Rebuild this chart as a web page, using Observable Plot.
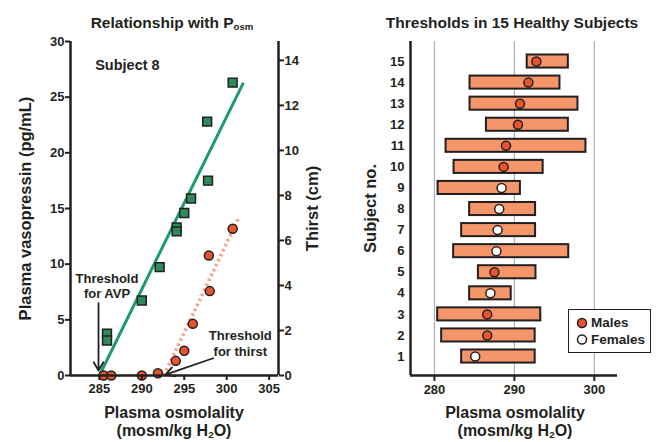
<!DOCTYPE html>
<html><head><meta charset="utf-8">
<script src="https://cdn.jsdelivr.net/npm/d3@7"></script>
<script src="https://cdn.jsdelivr.net/npm/@observablehq/plot@0.6"></script>
<style>
body{margin:0;background:#fff;}
#wrap{position:relative;width:661px;height:442px;overflow:hidden;font-family:"Liberation Sans",Arial,Helvetica,sans-serif;font-weight:bold;color:#231f20;}
.lab{position:absolute;transform:translate(-50%,-50%);white-space:nowrap;line-height:1;}
.lab sub{font-size:0.62em;vertical-align:-0.2em;line-height:0;}
#left,#right{position:absolute;top:0;}
#left{left:0;}#right{left:330px;}
#legend{position:absolute;left:568px;top:309px;width:81px;height:42px;border:1.8px solid #231f20;background:#fff;}
#legend div{position:absolute;left:22px;font-size:13.5px;transform:translateY(-50%);line-height:1;}
#legend svg{position:absolute;left:0;top:0;}
</style></head><body>
<div id="wrap">
  <div id="left"></div>
  <div id="right"></div>
  <div class="lab" style="left:172px;top:23px;font-size:15.5px">Relationship with P<sub>osm</sub></div>
  <div class="lab" style="left:512px;top:23px;font-size:15.5px">Thresholds in 15 Healthy Subjects</div>
  <div class="lab" style="left:174px;top:413px;font-size:16px">Plasma osmolality</div>
  <div class="lab" style="left:174px;top:431px;font-size:16px">(mosm/kg H<sub>2</sub>O)</div>
  <div class="lab" style="left:515px;top:413px;font-size:16px">Plasma osmolality</div>
  <div class="lab" style="left:515px;top:431px;font-size:16px">(mosm/kg H<sub>2</sub>O)</div>
  <div id="legend">
    <svg width="81" height="42">
      <circle cx="13" cy="13" r="4.5" fill="#e8542c" stroke="#231f20" stroke-width="1.5"></circle>
      <circle cx="13" cy="29.5" r="4.5" fill="#fff" stroke="#231f20" stroke-width="1.5"></circle>
    </svg>
    <div style="top:13px">Males</div>
    <div style="top:29.5px">Females</div>
  </div>
</div>
<script>
// ---------- Left panel data (Subject 8) ----------
const avpOsm   = [285.9, 285.9, 290.0, 292.1, 294.1, 294.1, 295.0, 295.8, 297.8, 297.7, 300.7];
const avpVal   = [3.75, 3.14, 6.74, 9.73, 13.3, 12.95, 14.6, 15.9, 17.5, 22.8, 26.3];
const thirstOsm = [285.5, 286.4, 290.0, 291.9, 294.0, 295.0, 296.0, 297.9, 298.0, 300.7];
const thirstVal = [0, 0, 0, 0.1, 0.65, 1.1, 2.3, 5.33, 3.75, 6.52];
const avpFitOsm = [285.0, 301.9];
const avpFitVal = [0, 26.2];
const thirstFitOsm = [292.6, 301.4];
const thirstFitVal = [0, 7.0];
const xTicksLeft = [285, 290, 295, 300, 305];
const avpTicks = [0, 5, 10, 15, 20, 25, 30];
const thirstTicks = [0, 2, 4, 6, 8, 10, 12, 14];
const avpTop = 30, thirstTop = 14.84;
const xDomainLeft = [281.6, 306.1];
const subjectLabel = "Subject 8";
const subjectLabelOsm = 288.3, subjectLabelAvp = 27.85;
const noteText = ["Threshold\nfor AVP", "Threshold\nfor thirst"];
const noteOsm = [285.9, 301.6];
const noteAvp = [8.1, 2.9];
const arrowFromOsm = [284.9, 298.4], arrowFromAvp = [6.5, 1.55];
const arrowToOsm = [284.9, 292.8], arrowToAvp = [0.45, 0.08];

// ---------- Right panel data ----------
const subjects = [1,2,3,4,5,6,7,8,9,10,11,12,13,14,15];
const rangeLow  = [283.4, 280.9, 280.4, 284.4, 285.5, 282.4, 283.4, 284.4, 280.45, 282.45, 281.45, 286.5, 284.45, 284.45, 291.6];
const rangeHigh = [292.6, 292.6, 293.3, 289.6, 292.7, 296.8, 292.65, 292.65, 290.75, 293.6, 298.95, 296.75, 297.95, 295.7, 296.75];
const threshold = [285.1, 286.6, 286.6, 287.0, 287.5, 287.75, 287.9, 288.1, 288.4, 288.65, 288.95, 290.45, 290.7, 291.75, 292.75];
const sex = ["F","M","M","F","M","F","F","F","F","M","M","M","M","M","M"];
const xTicksRight = [280, 290, 300];
const xDomainRight = [277, 302.9];
const yDomainRight = [0.1, 15.95];

const INK = "#231f20", GREEN = "#1f9a6c", SQ = "#2e8a5c", RED = "#e8542c", SALMON = "#f6a285", BAR = "#f4966a", GRID = "#a3b2be";
const FONT = '"Liberation Sans", Arial, Helvetica, sans-serif';
const k = avpTop / thirstTop;

const avpPts = avpOsm.map((x, i) => ({x, y: avpVal[i]}));
const thirstPts = thirstOsm.map((x, i) => ({x, t: thirstVal[i]}));
const avpFit = avpFitOsm.map((x, i) => ({x, y: avpFitVal[i]}));
const thirstFit = thirstFitOsm.map((x, i) => ({x, t: thirstFitVal[i]}));
const notes = noteText.map((text, i) => ({text, x: noteOsm[i], y: noteAvp[i]}));
const arrows = arrowFromOsm.map((x1, i) => ({x1, y1: arrowFromAvp[i], x2: arrowToOsm[i], y2: arrowToAvp[i]}));

const left = Plot.plot({
  width: 330, height: 442,
  marginLeft: 70, marginRight: 52, marginTop: 41, marginBottom: 67,
  style: {fontFamily: FONT, fontWeight: "bold", fontSize: "13px", color: INK, background: "transparent"},
  x: {domain: xDomainLeft},
  y: {domain: [0, avpTop]},
  marks: [
    Plot.line(avpFit, {x: "x", y: "y", stroke: GREEN, strokeWidth: 3}),
    Plot.line(thirstFit, {x: "x", y: d => d.t * k, stroke: SALMON, strokeWidth: 3.5, strokeDasharray: "2.5 3", strokeLinecap: "butt"}),
    Plot.dot(thirstPts, {x: "x", y: d => d.t * k, r: 4.5, fill: RED, stroke: INK, strokeWidth: 1.5}),
    Plot.dot(avpPts, {x: "x", y: "y", symbol: "square", r: 5, fill: SQ, stroke: INK, strokeWidth: 1.5}),
    Plot.arrow(arrows, {x1: "x1", y1: "y1", x2: "x2", y2: "y2", stroke: INK, strokeWidth: 1.8, headLength: 8}),
    Plot.text(notes, {x: "x", y: "y", text: "text", fontSize: 13, lineHeight: 1.18, fill: INK}),
    Plot.text([subjectLabel], {x: () => subjectLabelOsm, y: () => subjectLabelAvp, text: d => d, fontSize: 14.5, fill: INK}),
    Plot.ruleX([xDomainLeft[0]], {stroke: INK, strokeWidth: 2.5}),
    Plot.ruleX([xDomainLeft[1]], {stroke: INK, strokeWidth: 2.5}),
    Plot.ruleY([0], {stroke: INK, strokeWidth: 2.5}),
    Plot.axisX({ticks: xTicksLeft, tickSize: 5, tickPadding: 3, label: null, strokeWidth: 2, fontSize: 13}),
    Plot.axisY({ticks: avpTicks, anchor: "left", tickSize: 5, tickPadding: 1, label: null, strokeWidth: 2, fontSize: 13}),
    Plot.axisY({ticks: thirstTicks.map(t => t * k), tickFormat: d => String(Math.round(d / k)), anchor: "right", tickSize: 5, tickPadding: 1, label: null, strokeWidth: 2, fontSize: 13}),
    Plot.text(["Plasma vasopressin (pg/mL)"], {text: d => d, frameAnchor: "left", textAnchor: "middle", dx: -45, rotate: -90, fontSize: 16.5, fill: INK}),
    Plot.text(["Thirst (cm)"], {text: d => d, frameAnchor: "right", textAnchor: "middle", dx: 34, rotate: -90, fontSize: 16.5, fill: INK})
  ]
});
document.getElementById("left").append(left);

const rows = subjects.map((s, i) => ({s, lo: rangeLow[i], hi: rangeHigh[i], thr: threshold[i], sex: sex[i]}));
const right = Plot.plot({
  width: 331, height: 442,
  marginLeft: 80, marginRight: 44, marginTop: 41, marginBottom: 67,
  style: {fontFamily: FONT, fontWeight: "bold", fontSize: "13px", color: INK, background: "transparent"},
  x: {domain: xDomainRight},
  y: {domain: yDomainRight},
  color: {domain: ["M", "F"], range: [RED, "#ffffff"]},
  marks: [
    Plot.ruleX(xTicksRight, {stroke: GRID, strokeWidth: 1.2}),
    Plot.rect(rows, {x1: "lo", x2: "hi", y1: d => d.s - 0.31, y2: d => d.s + 0.31, fill: BAR, stroke: INK, strokeWidth: 2}),
    Plot.dot(rows, {x: "thr", y: "s", r: 4.5, fill: "sex", stroke: INK, strokeWidth: 1.5}),
    Plot.ruleX([xDomainRight[0]], {stroke: INK, strokeWidth: 2.5}),
    Plot.ruleY([yDomainRight[0]], {stroke: INK, strokeWidth: 2.5}),
    Plot.axisX({ticks: xTicksRight, tickSize: 6, tickPadding: 3, label: null, strokeWidth: 2, fontSize: 13}),
    Plot.axisY({ticks: subjects, tickSize: 0, tickPadding: 6, label: null, fontSize: 13}),
    Plot.text(["Subject no."], {text: d => d, frameAnchor: "left", textAnchor: "middle", dx: -40, rotate: -90, fontSize: 16.5, fill: INK})
  ]
});
document.getElementById("right").append(right);
</script>
</body></html>
